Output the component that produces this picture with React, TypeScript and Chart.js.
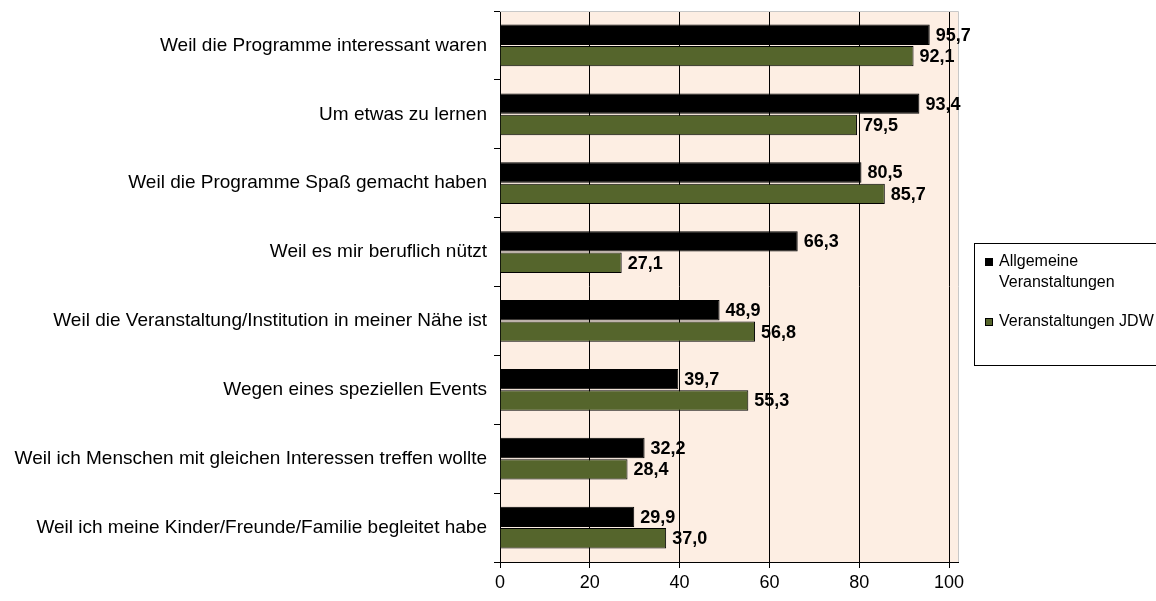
import React, { useEffect, useRef } from "react";
import { Chart, registerables } from "chart.js";

Chart.register(...registerables);

const categories = [
  "Weil die Programme interessant waren",
  "Um etwas zu lernen",
  "Weil die Programme Spaß gemacht haben",
  "Weil es mir beruflich nützt",
  "Weil die Veranstaltung/Institution in meiner Nähe ist",
  "Wegen eines speziellen Events",
  "Weil ich Menschen mit gleichen Interessen treffen wollte",
  "Weil ich meine Kinder/Freunde/Familie begleitet habe",
];
const allgemeine = [95.7, 93.4, 80.5, 66.3, 48.9, 39.7, 32.2, 29.9];
const jdw = [92.1, 79.5, 85.7, 27.1, 56.8, 55.3, 28.4, 37.0];
const xTicks = [0, 20, 40, 60, 80, 100];
const seriesNames = ["Allgemeine Veranstaltungen", "Veranstaltungen JDW"];

const FONT = "'Liberation Sans', Arial, sans-serif";
const GREEN = "#55652C";

const bgPlugin = {
  id: "bgPlugin",
  beforeDraw(chart: any) {
    const { ctx, chartArea } = chart;
    ctx.save();
    ctx.fillStyle = "#FDEEE3";
    ctx.fillRect(chartArea.left, chartArea.top, chartArea.right - chartArea.left, chartArea.bottom - chartArea.top);
    ctx.restore();
  },
  beforeDatasetsDraw(chart: any) {
    const { ctx, chartArea } = chart;
    ctx.save();
    ctx.strokeStyle = "#C8C8C8";
    ctx.lineWidth = 1;
    ctx.beginPath();
    ctx.moveTo(chartArea.left, chartArea.top + 0.5);
    ctx.lineTo(chartArea.right + 0.5, chartArea.top + 0.5);
    ctx.lineTo(chartArea.right + 0.5, chartArea.bottom);
    ctx.stroke();
    ctx.restore();
  },
};

const labelPlugin = {
  id: "labelPlugin",
  afterDatasetsDraw(chart: any) {
    const { ctx } = chart;
    ctx.save();
    ctx.font = `bold 18px ${FONT}`;
    ctx.fillStyle = "#000";
    ctx.textBaseline = "middle";
    ctx.textAlign = "left";
    chart.data.datasets.forEach((ds: any, di: number) => {
      const meta = chart.getDatasetMeta(di);
      meta.data.forEach((el: any, i: number) => {
        const v = ds.data[i] as number;
        ctx.fillText(v.toFixed(1).replace(".", ","), el.x + 6, el.y + 1);
      });
    });
    ctx.restore();
  },
};

const legendPlugin = {
  id: "legendPlugin",
  afterDraw(chart: any) {
    const { ctx } = chart;
    ctx.save();
    ctx.strokeStyle = "#000";
    ctx.lineWidth = 1;
    ctx.strokeRect(974.5, 243.5, 200, 122);
    ctx.font = `16px ${FONT}`;
    ctx.textBaseline = "middle";
    ctx.textAlign = "left";
    ctx.fillStyle = "#000";
    ctx.fillRect(985, 258, 8, 8);
    ctx.fillText("Allgemeine", 999, 262);
    ctx.fillText("Veranstaltungen", 999, 283);
    ctx.fillStyle = GREEN;
    ctx.fillRect(985, 318, 8, 8);
    ctx.strokeRect(985.5, 318.5, 7, 7);
    ctx.fillStyle = "#000";
    ctx.fillText("Veranstaltungen JDW", 999, 322);
    ctx.restore();
  },
};

export default function App() {
  const ref = useRef<HTMLCanvasElement>(null);
  useEffect(() => {
    document.body.style.margin = "0";
    const chart = new Chart(ref.current!, {
      type: "bar",
      data: {
        labels: categories,
        datasets: [
          {
            label: seriesNames[0],
            data: allgemeine,
            backgroundColor: "#000000",
            borderColor: "#000000",
            borderWidth: 1,
            categoryPercentage: 0.62,
            barPercentage: 0.95,
          },
          {
            label: seriesNames[1],
            data: jdw,
            backgroundColor: GREEN,
            borderColor: "#000000",
            borderWidth: 1,
            categoryPercentage: 0.62,
            barPercentage: 0.95,
          },
        ],
      },
      options: {
        indexAxis: "y",
        animation: false,
        responsive: false,
        layout: { padding: { left: 0, right: 198, top: 11, bottom: 0 } },
        plugins: { legend: { display: false }, tooltip: { enabled: false } },
        scales: {
          x: {
            min: 0,
            max: 102,
            afterBuildTicks(scale: any) {
              scale.ticks = xTicks.map((v) => ({ value: v }));
            },
            afterFit(scale: any) {
              scale.height = 39;
              scale.paddingLeft = 0;
              scale.paddingRight = 0;
            },
            grid: {
              color: "#000",
              lineWidth: 1,
              drawTicks: true,
              tickLength: 6,
              tickColor: "#000",
            },
            border: { display: true, color: "#000", width: 1 },
            ticks: {
              color: "#000",
              font: { family: FONT, size: 18 },
              padding: 4,
              maxRotation: 0,
            },
          },
          y: {
            afterFit(scale: any) {
              scale.width = 500;
              scale.paddingTop = 0;
              scale.paddingBottom = 0;
            },
            grid: {
              drawOnChartArea: false,
              drawTicks: true,
              tickLength: 6,
              tickColor: "#000",
              offset: true,
            },
            border: { display: true, color: "#000", width: 1 },
            ticks: {
              color: "#000",
              font: { family: FONT, size: 19 },
              padding: 7,
              autoSkip: false,
            },
          },
        },
      },
      plugins: [bgPlugin, labelPlugin, legendPlugin],
    } as any);
    return () => chart.destroy();
  }, []);
  return (
    <div style={{ position: "fixed", left: 0, top: 0, width: 1156, height: 601 }}>
      <canvas ref={ref} width={1156} height={601} style={{ width: 1156, height: 601 }} />
    </div>
  );
}
